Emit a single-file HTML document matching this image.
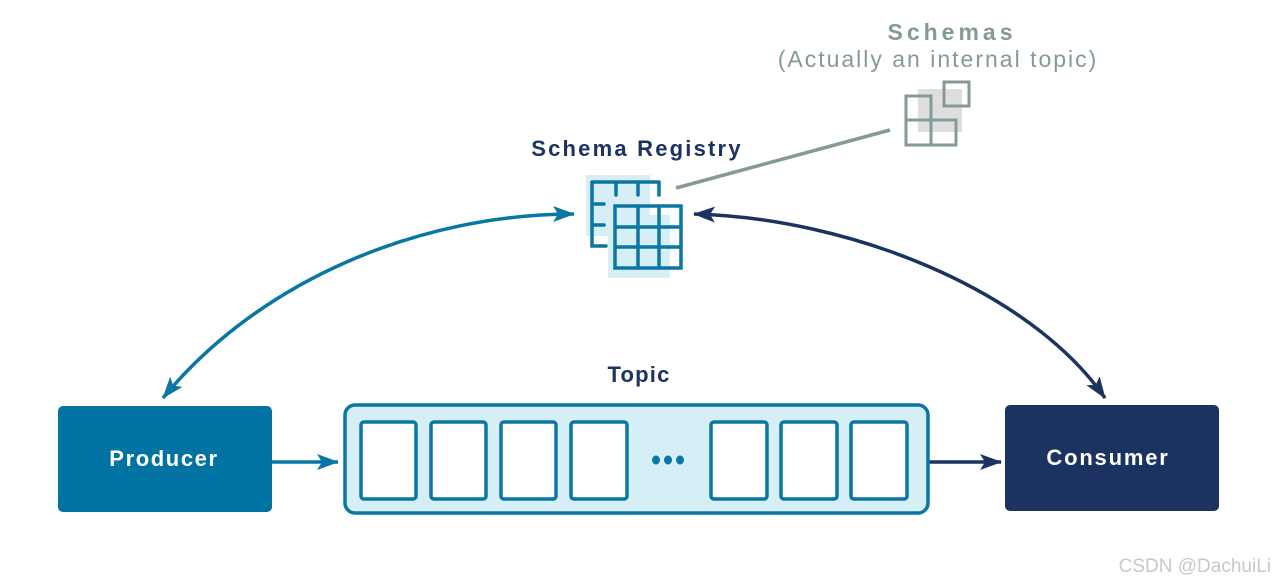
<!DOCTYPE html>
<html><head><meta charset="utf-8"><style>
html,body{margin:0;padding:0;background:#fff;width:1276px;height:586px;overflow:hidden}
text{font-family:"Liberation Sans",sans-serif}
</style></head><body>
<svg width="1276" height="586" viewBox="0 0 1276 586" xmlns="http://www.w3.org/2000/svg">
<defs>
<marker id="abig" viewBox="0 0 22 16" refX="21" refY="8" markerWidth="22" markerHeight="16" markerUnits="userSpaceOnUse" orient="auto-start-reverse"><path d="M0,0 L22,8 L0,16 L5,8 Z" fill="#0a76a3"/></marker>
<marker id="dbig" viewBox="0 0 22 16" refX="21" refY="8" markerWidth="22" markerHeight="16" markerUnits="userSpaceOnUse" orient="auto-start-reverse"><path d="M0,0 L22,8 L0,16 L5,8 Z" fill="#1c3361"/></marker>
</defs>
<!-- titles -->
<text x="952" y="40" font-size="23" font-weight="bold" fill="#86999a" text-anchor="middle" letter-spacing="4">Schemas</text>
<text x="938" y="67" font-size="23" fill="#86999a" text-anchor="middle" letter-spacing="2">(Actually an internal topic)</text>
<text x="637" y="156" font-size="22" font-weight="bold" fill="#1c3361" text-anchor="middle" letter-spacing="2.2">Schema  Registry</text>
<text x="639" y="382" font-size="22" font-weight="bold" fill="#1c3361" text-anchor="middle" letter-spacing="1.2">Topic</text>
<!-- schemas icon -->
<rect x="918" y="89" width="44" height="43" fill="#dedede"/>
<g fill="none" stroke="#86999a" stroke-width="3">
<rect x="944" y="82" width="25" height="24"/>
<path d="M906 96 H931 V145 H906 Z M906 120 H956 V145 H931"/>
</g>
<line x1="676" y1="188" x2="890" y2="130" stroke="#86999a" stroke-width="3.5"/>
<!-- registry icon -->
<rect x="586" y="175" width="64" height="61" fill="#d6eef5"/>
<rect x="608" y="215" width="62" height="63" fill="#d6eef5"/>
<g fill="none" stroke="#0a76a3" stroke-width="3.5" stroke-linecap="round">
<path d="M592 182 H659 M592 182 V246 H606 M616 182 V195 M638 182 V195 M659 182 V195 M592 204 H604 M592 225 H604"/>
<rect x="615" y="206" width="66" height="62" fill="none"/>
<path d="M638 206 V268 M659 206 V268 M615 227 H681 M615 247 H681"/>
</g>
<!-- curves -->
<path d="M574 214 C420 214 260 280 163 398" fill="none" stroke="#0a76a3" stroke-width="3.5" marker-start="url(#abig)" marker-end="url(#abig)"/>
<path d="M694 214 C850 218 1030 290 1105 398" fill="none" stroke="#1c3361" stroke-width="3.5" marker-start="url(#dbig)" marker-end="url(#dbig)"/>
<!-- producer -->
<rect x="58" y="406" width="214" height="106" rx="5" fill="#0073a3"/>
<text x="164" y="466" font-size="22" font-weight="bold" fill="#fff" text-anchor="middle" letter-spacing="1.6">Producer</text>
<!-- consumer -->
<rect x="1005" y="405" width="214" height="106" rx="5" fill="#1c3361"/>
<text x="1108" y="465" font-size="22" font-weight="bold" fill="#fff" text-anchor="middle" letter-spacing="1.8">Consumer</text>
<!-- arrows -->
<line x1="272" y1="462" x2="338" y2="462" stroke="#0a76a3" stroke-width="3.5" marker-end="url(#abig)"/>
<line x1="929" y1="462" x2="1001" y2="462" stroke="#1c3361" stroke-width="3.5" marker-end="url(#dbig)"/>
<!-- topic -->
<rect x="345" y="405" width="583" height="108" rx="10" fill="#d6eef5" stroke="#0a76a3" stroke-width="3.5"/>
<g fill="#fff" stroke="#0a76a3" stroke-width="3.5">
<rect x="361" y="422" width="55" height="77" rx="3"/>
<rect x="431" y="422" width="55" height="77" rx="3"/>
<rect x="501" y="422" width="55" height="77" rx="3"/>
<rect x="571" y="422" width="56" height="77" rx="3"/>
<rect x="711" y="422" width="56" height="77" rx="3"/>
<rect x="781" y="422" width="56" height="77" rx="3"/>
<rect x="851" y="422" width="56" height="77" rx="3"/>
</g>
<g fill="#0a76a3"><ellipse cx="656" cy="460" rx="4" ry="4.5"/><ellipse cx="668" cy="460" rx="4" ry="4.5"/><ellipse cx="680" cy="460" rx="4" ry="4.5"/></g>
<text x="1271" y="572" font-size="19" fill="#c8c8c8" text-anchor="end">CSDN @DachuiLi</text>
</svg>
</body></html>
